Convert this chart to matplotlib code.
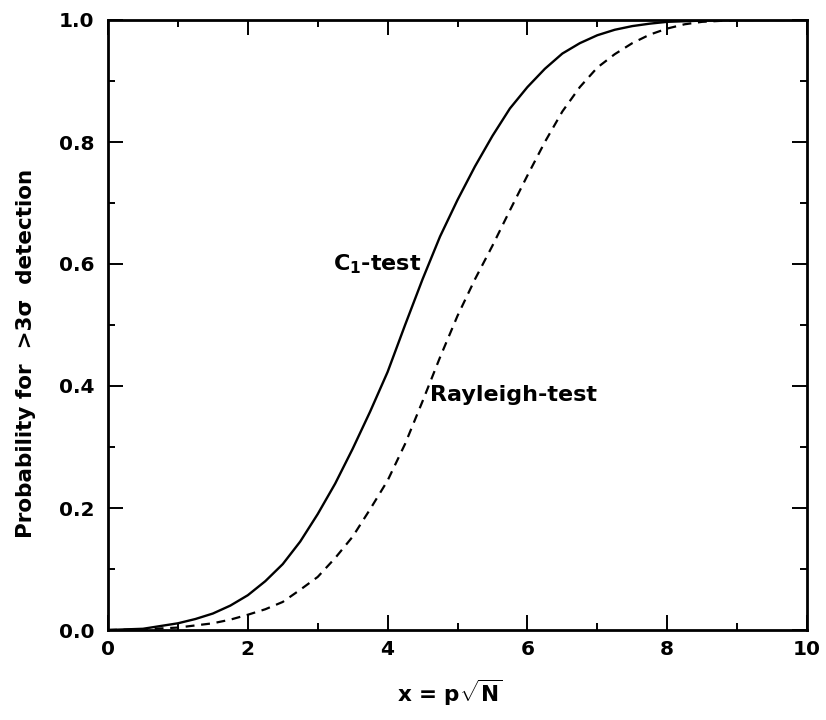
import matplotlib as mpl
mpl.use('Agg')
from matplotlib import pyplot as plt
from matplotlib.ticker import MultipleLocator, FormatStrFormatter

# values
x_c1 = [0, 0.5, 1, 1.25, 1.5, 1.75, 2, 2.25, 2.5, 2.75, 3, 3.25, 3.5, 3.75, 4, 4.25,
        4.5, 4.75, 5, 5.25, 5.5, 5.75, 6, 6.25, 6.5, 6.75, 7, 7.25, 7.5, 7.75, 8,
        8.5, 9, 10]
c1_test = [0, 0.002, 0.011, 0.018, 0.027, 0.04, 0.057, 0.08, 0.108, 0.145, 0.19,
           0.24, 0.297, 0.358, 0.423, 0.5, 0.575, 0.645, 0.705, 0.76, 0.81, 0.855,
           0.89, 0.92, 0.945, 0.962, 0.975, 0.984, 0.99, 0.994, 0.997, 0.999, 1.0, 1.0]

x_ray = [0, 0.5, 1, 1.5, 1.75, 2, 2.25, 2.5, 2.75, 3, 3.25, 3.5, 3.75, 4, 4.25, 4.5,
         4.75, 5, 5.25, 5.5, 5.75, 6, 6.25, 6.5, 6.75, 7, 7.25, 7.5, 7.75, 8, 8.25,
         8.5, 9, 10]
rayleigh_test = [0, 0.001, 0.004, 0.011, 0.017, 0.025, 0.034, 0.046, 0.066, 0.087,
                 0.118, 0.153, 0.198, 0.245, 0.305, 0.375, 0.447, 0.515, 0.575, 0.63,
                 0.688, 0.745, 0.80, 0.85, 0.89, 0.922, 0.944, 0.962, 0.976, 0.986,
                 0.993, 0.997, 1.0, 1.0]

plt.rcParams['font.family'] = ['DejaVu Sans']
plt.rcParams['font.weight'] = 'bold'
plt.rcParams['axes.labelweight'] = 'bold'
plt.rcParams['mathtext.fontset'] = 'custom'
plt.rcParams['mathtext.rm'] = 'DejaVu Sans:bold'
plt.rcParams['mathtext.it'] = 'DejaVu Sans:bold'
plt.rcParams['mathtext.bf'] = 'DejaVu Sans:bold'

fig = plt.figure(figsize=(8.26, 7.2), dpi=100)
ax = fig.add_axes([108 / 826, 90 / 720, 699 / 826, 610 / 720])

ax.plot(x_c1, c1_test, color='black', lw=1.7, ls='-')
ax.plot(x_ray, rayleigh_test, color='black', lw=1.6, ls=(0, (4, 3)))

ax.set_xlim(0, 10)
ax.set_ylim(0, 1)
ax.xaxis.set_major_locator(MultipleLocator(2))
ax.xaxis.set_minor_locator(MultipleLocator(1))
ax.yaxis.set_major_locator(MultipleLocator(0.2))
ax.yaxis.set_minor_locator(MultipleLocator(0.1))
ax.yaxis.set_major_formatter(FormatStrFormatter('%.1f'))

ax.tick_params(which='both', direction='in', top=True, right=True, width=1.4,
               labelsize=14.5)
ax.tick_params(axis='y', pad=10)
ax.tick_params(axis='x', pad=7)
ax.tick_params(which='major', length=11)
ax.tick_params(which='minor', length=5)
for sp in ax.spines.values():
    sp.set_linewidth(2)

ax.set_xlabel(r'x = p$\sqrt{N}$', fontsize=15.5)
ax.set_ylabel('Probability for  >3σ  detection', fontsize=15.5)
ax.xaxis.set_label_coords(0.489, -0.078)
ax.yaxis.set_label_coords(-0.103, 0.454)

ax.text(3.22, 0.60, r'C$_1$-test', fontsize=16, va='center', ha='left')
ax.text(4.6, 0.385, 'Rayleigh-test', fontsize=16, va='center', ha='left')

fig.savefig('out.png', dpi=100)
